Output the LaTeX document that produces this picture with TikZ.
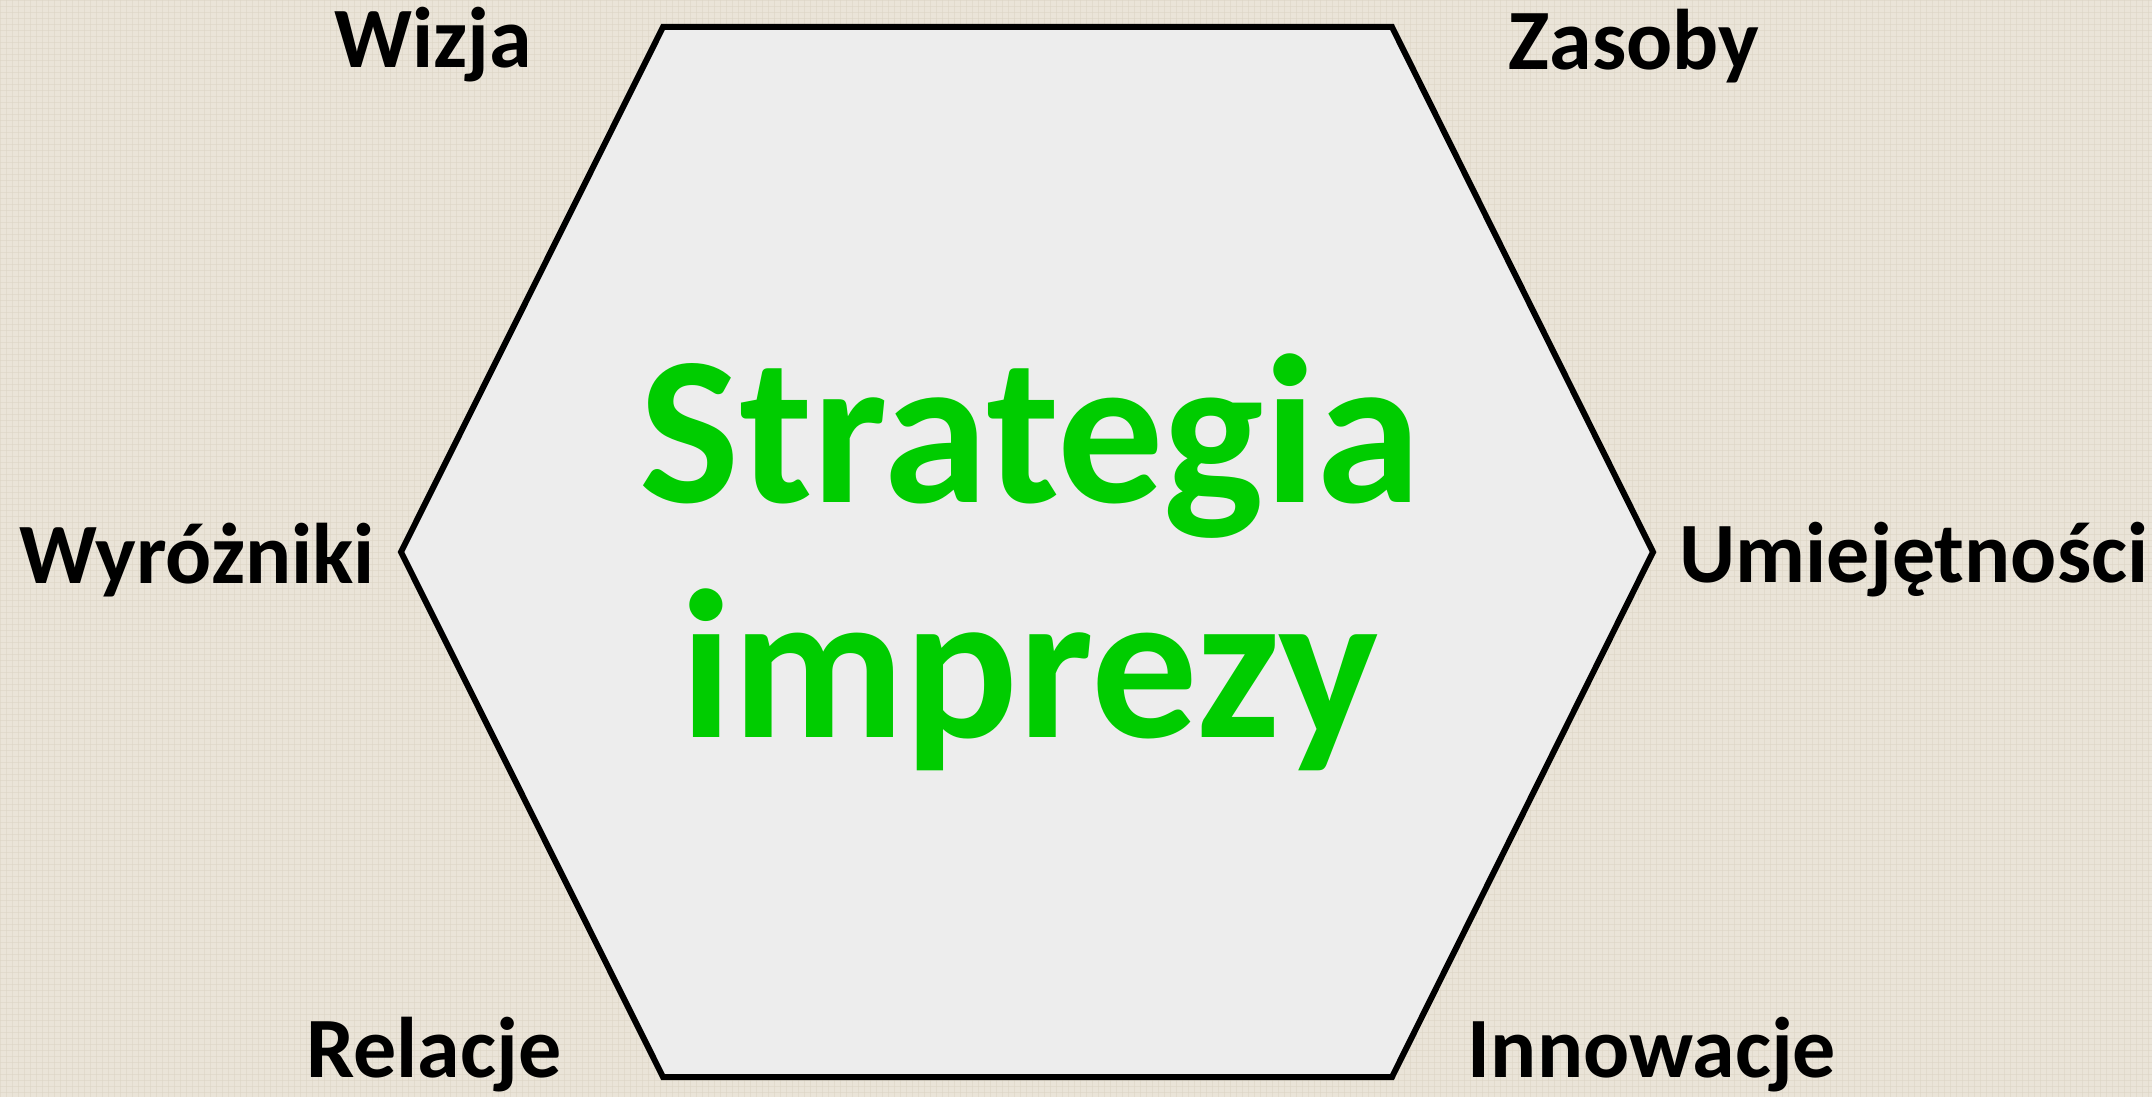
\documentclass[tikz,border=0pt]{standalone}
\usepackage{fontspec}
\setmainfont{Carlito}
\definecolor{linen}{RGB}{234,228,216}
\definecolor{linenline}{RGB}{220,212,196}
\definecolor{hexfill}{RGB}{237,237,237}
\definecolor{leafgreen}{RGB}{0,204,0}
\tikzset{
  label/.style={font=\fontsize{43pt}{50pt}\selectfont\bfseries, text=black, anchor=base, inner sep=0pt},
  title/.style={font=\fontsize{106pt}{117.5pt}\selectfont\bfseries, text=leafgreen, align=center, inner sep=0pt},
  hexedge/.style={draw=black, line width=3pt, line join=miter, fill=hexfill}
}
\begin{document}
\begin{tikzpicture}[x=0.5pt,y=-0.5pt]
  % canvas
  \fill[linen] (0,0) rectangle (2152,1097);
  \useasboundingbox (0,0) rectangle (2152,1097);
  % faint woven texture
  \foreach \i in {0,6,...,2150} {
    \draw[linenline, line width=0.25pt, opacity=0.5] (\i,0) -- (\i,1097);
  }
  \foreach \j in {0,6,...,1096} {
    \draw[linenline, line width=0.25pt, opacity=0.5] (0,\j) -- (2152,\j);
  }
  % hexagon corners
  \coordinate (tl) at (663,27);
  \coordinate (tr) at (1392,27);
  \coordinate (r)  at (1653,552);
  \coordinate (br) at (1392,1077);
  \coordinate (bl) at (663,1077);
  \coordinate (l)  at (401,552);
  \draw[hexedge] (tl) -- (tr) -- (r) -- (br) -- (bl) -- (l) -- cycle;
  % central title (base anchor sits on the last line)
  \node[title, anchor=base] (strat) at (1030,737) {Strategia\\imprezy};
  % surrounding labels
  \node[label] (wizja)  at (433,68)   {Wizja};
  \node[label] (zasoby) at (1634,70)  {Zasoby};
  \node[label] (wyr)    at (197,583)  {Wyróżniki};
  \node[label] (umiej)  at (1914,582) {Umiejętności};
  \node[label] (rel)    at (434,1077) {Relacje};
  \node[label] (innow)  at (1652,1077){Innowacje};
\end{tikzpicture}
\end{document}
